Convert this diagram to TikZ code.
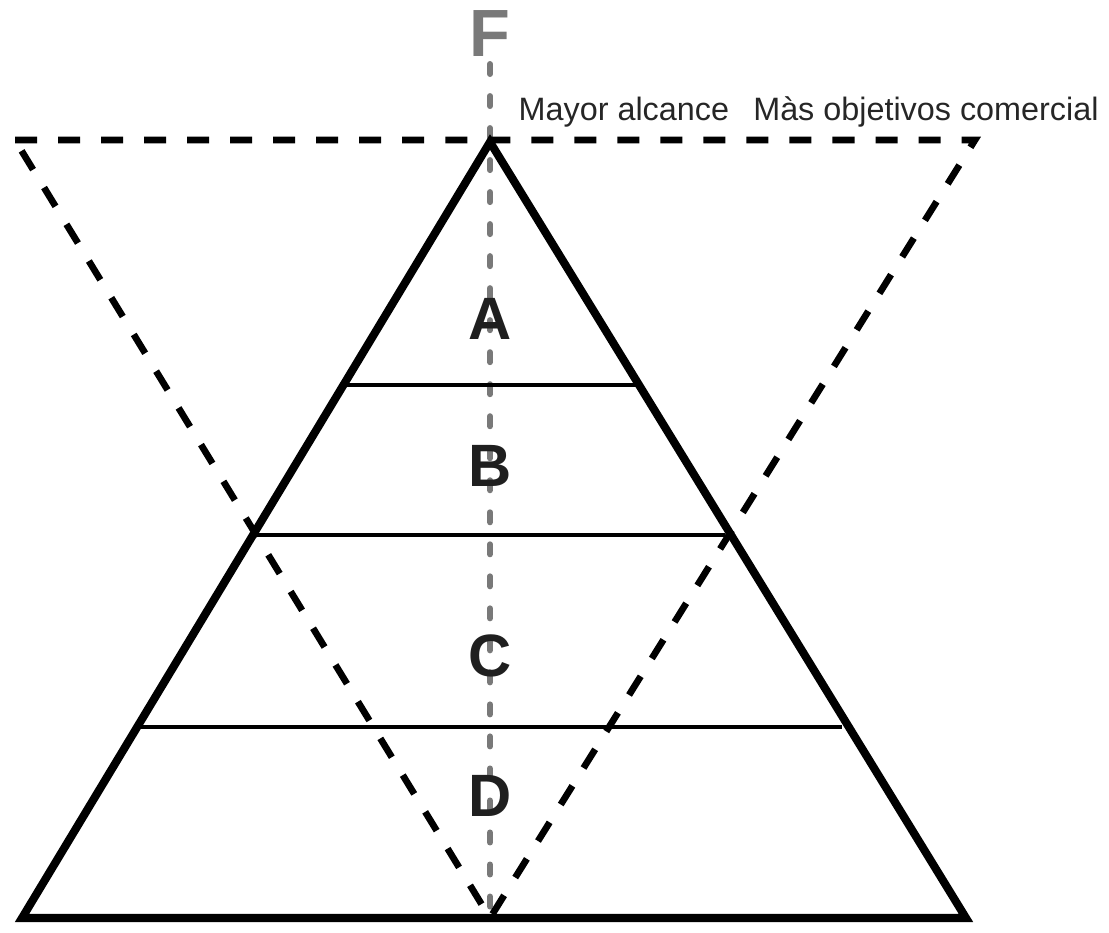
\documentclass[tikz,border=0pt]{standalone}
\usepackage{fontspec}
\setmainfont{Liberation Sans}

\begin{document}
\begin{tikzpicture}[
  x=0.01cm, y=-0.01cm,
  level/.style={line width=1.4pt},
  outline/.style={line width=2.3pt, line join=miter},
  funnel/.style={line width=1.9pt, dash pattern=on 0.22cm off 0.21cm},
  axisline/.style={line width=1.7pt, gray!95!black, line cap=round, dash pattern=on 0.1cm off 0.22cm},
  letter/.style={font=\fontsize{17}{17}\selectfont\bfseries, text=black!88},
  ]

  % Parameters
  \def\Xc{490}
  \def\Ytop{142}
  \def\Ybase{918}

  \useasboundingbox (0,0) rectangle (1109,932);

  % Vertical axis (gray, dashed)
  \draw[axisline] (\Xc, 64) -- (\Xc, \Ybase);
  \node[font=\fontsize{19}{19}\selectfont\bfseries, text=gray!95!black] (F) at (\Xc, 33) {F};

  % Inverted triangle (dashed)
  \draw[funnel] (15, 140) -- (975, 140) -- (\Xc, \Ybase) -- cycle;

  % Pyramid
  \draw[outline] (22, \Ybase) -- (\Xc, \Ytop) -- (966, \Ybase) -- cycle;

  % Levels
  \draw[level] (345, 385) -- (636, 385);
  \draw[level] (256, 535) -- (725, 535);
  \draw[level] (139, 727) -- (842, 727);

  % Level letters
  \node[letter] (A) at (\Xc, 319) {A};
  \node[letter] (B) at (\Xc, 466) {B};
  \node[letter] (C) at (\Xc, 656) {C};
  \node[letter] (D) at (\Xc, 796) {D};

  % Caption
  \node[anchor=base west, inner sep=0pt, font=\fontsize{9.2}{10}\selectfont, text=black!85] (cap)
    at (518, 120) {Mayor alcance\hspace{0.75em}Màs objetivos comercial};

\end{tikzpicture}
\end{document}
